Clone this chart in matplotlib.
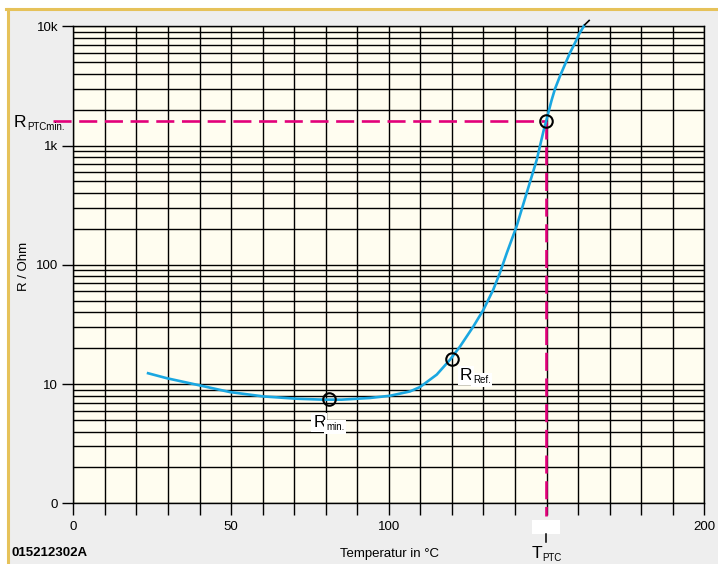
import matplotlib
matplotlib.use("Agg")
import matplotlib.pyplot as plt
import matplotlib.ticker as mticker
import matplotlib.transforms as mtransforms
from matplotlib.patches import Rectangle
from matplotlib.lines import Line2D

plt.rcParams['font.family'] = ['Liberation Sans', 'DejaVu Sans']
plt.rcParams['lines.scale_dashes'] = False

# PTC curve (last point = black tip)
temperature = [23.3, 29.6, 39.1, 49.7, 60.3, 70.9, 79.2, 85.0, 94.0, 100.4,
               106.7, 109.9, 115.2, 119.4, 122.6, 126.8, 130.0, 133.1, 135.2,
               137.4, 140.5, 143.7, 146.9, 149.0, 150.6, 151.6, 152.7, 154.3,
               155.8, 157.4, 159.0, 160.5, 162.1, 163.5]
resistance = [12.4, 11.2, 9.87, 8.56, 7.87, 7.53, 7.40, 7.40, 7.64, 7.98,
              8.67, 9.44, 12.0, 16.0, 20.7, 30.4, 42.0, 61.8, 85.3,
              125.6, 210.0, 400.0, 760.0, 1312.0, 1900.0, 2400.0, 3000.0, 3850.0,
              4760.0, 5970.0, 7240.0, 8780.0, 10300.0, 11190.0]

t_rmin, r_min = 81.1, 7.48
t_rref, r_ref = 119.9, 16.2
t_ptc, r_ptc_min = 149.8, 1600.0

x_ticks = list(range(0, 201, 10))
x_labels = {0: '0', 50: '50', 100: '100', 200: '200'}
y_ticks = [1, 10, 100, 1000, 10000]
y_labels = ['0', '10', '100', '1k', '10k']

blue = '#1aa7e1'
magenta = '#e2007a'

fig = plt.figure(figsize=(7.18, 5.64), dpi=100)
fig.patch.set_facecolor('white')
W, H = 718.0, 564.0

# grey panel with yellow edge on top and left
fig.add_artist(Rectangle((7.5 / W, 0), 1, 1 - 8.5 / H, transform=fig.transFigure,
                         facecolor='#eeeeee', edgecolor='none', zorder=-10))
fig.add_artist(Line2D([7.5 / W, 7.5 / W], [0, 1 - 8.5 / H], transform=fig.transFigure,
                      color='#e6c25a', lw=2.2))
fig.add_artist(Line2D([6.4 / W, 1], [1 - 8.5 / H, 1 - 8.5 / H], transform=fig.transFigure,
                      color='#e6c25a', lw=2.2))

ax = fig.add_axes([73.3 / W, 1 - 503.3 / H, 631 / W, 477 / H])
ax.set_facecolor('#fffdf0')
ax.set_yscale('log')
ax.set_xlim(0, 200)
ax.set_ylim(1, 10000)

ax.set_xticks(x_ticks)
ax.set_xticklabels([x_labels.get(t, '') for t in x_ticks])
ax.set_yticks(y_ticks)
ax.set_yticklabels(y_labels)
ax.yaxis.set_minor_locator(mticker.LogLocator(base=10, subs=range(2, 10)))
ax.yaxis.set_minor_formatter(mticker.NullFormatter())
ax.tick_params(axis='x', which='major', length=8.6, width=1, pad=4, labelsize=9.5)
ax.tick_params(axis='y', which='major', length=8, width=1, pad=3, labelsize=9.5)
ax.tick_params(axis='y', which='minor', length=0)
ax.grid(True, which='major', color='black', lw=1)
ax.grid(True, which='minor', axis='y', color='black', lw=1)
for s in ax.spines.values():
    s.set_linewidth(1)
    s.set_color('black')

ax.set_xlabel('Temperatur in °C', fontsize=9.5)
ax.xaxis.set_label_coords(0.501, -0.094)
ax.set_ylabel('R / Ohm', fontsize=9.5)
ax.yaxis.set_label_coords(-0.068, 0.497)

bx = mtransforms.blended_transform_factory(ax.transData, ax.transAxes)

# dashed guides for T_PTC / R_PTCmin
y_bottom = 10 ** (4 * -0.027)
ax.plot([-6.3, t_ptc], [r_ptc_min, r_ptc_min], color=magenta, lw=1.9,
        dashes=(13, 5.5), clip_on=False, zorder=3)
ax.plot([t_ptc, t_ptc], [r_ptc_min, y_bottom], color=magenta, lw=1.9,
        dashes=(13, 5.5), clip_on=False, zorder=3)

# curve
ax.plot(temperature[:-1], resistance[:-1], color=blue, lw=1.9, clip_on=False,
        zorder=4, solid_capstyle='butt', solid_joinstyle='round')
ax.plot(temperature[-2:], resistance[-2:], color='black', lw=1.2, clip_on=False, zorder=4)

# marker circles
ax.plot([t_rmin, t_rref, t_ptc], [r_min, r_ref, r_ptc_min], 'o', ms=9, mfc='none',
        mec='black', mew=1.5, zorder=5, clip_on=False)

# white box over the 150 label and the longer tick
ax.add_patch(Rectangle((t_ptc - 4.4, -0.065), 8.9, 0.030, transform=bx,
                       facecolor='white', edgecolor='none', clip_on=False, zorder=6))
ax.plot([t_ptc, t_ptc], [-0.064, -0.081], transform=bx, color='black', lw=1.1,
        clip_on=False, zorder=6)


def sub_label(xy, xycoords, offset, main, sub, box=False):
    kw = dict(bbox=dict(facecolor='white', edgecolor='none', pad=1.2)) if box else {}
    t = ax.annotate(main, xy=xy, xycoords=xycoords, xytext=offset,
                    textcoords='offset points', ha='left', va='baseline',
                    fontsize=12.5, zorder=7, annotation_clip=False, **kw)
    ax.annotate(sub, xy=(1, 0), xycoords=t, xytext=(0.3, -1.6),
                textcoords='offset points', ha='left', va='bottom',
                fontsize=7, zorder=8, annotation_clip=False, **kw)


sub_label((t_rmin, r_min), 'data', (-11.5, -20.0), 'R', 'min.', box=True)
sub_label((t_rref, r_ref), 'data', (6.0, -15.0), 'R', 'Ref.', box=True)
sub_label((0, r_ptc_min), ('axes fraction', 'data'), (-42.7, -4.3), 'R', 'PTCmin.')
sub_label((t_ptc, 0), ('data', 'axes fraction'), (-10.4, -39.2), 'T', 'PTC')

fig.text(12 / W, 1 - 553 / H, '015212302A', fontsize=9.5, fontweight='bold',
         ha='left', va='center')

fig.savefig('out.png', dpi=100, facecolor=fig.get_facecolor())
